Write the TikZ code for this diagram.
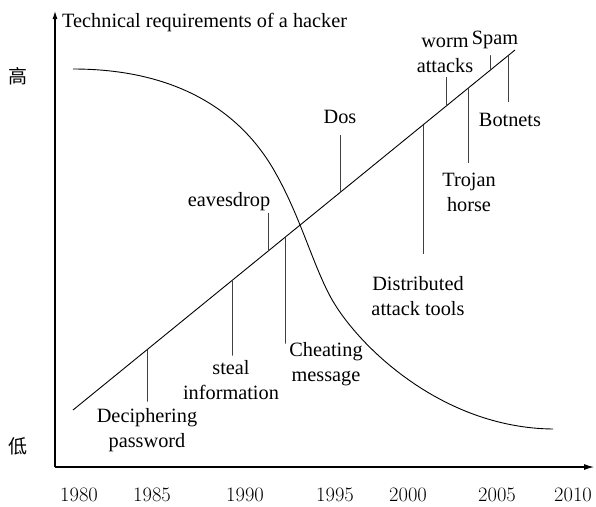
\documentclass[tikz,border=0pt]{standalone}
\usepackage{fontspec}
\newfontfamily\tnr{Liberation Serif}
\newfontfamily\cjk{Noto Sans CJK SC}
\usetikzlibrary{arrows.meta,calc}

\begin{document}
\begin{tikzpicture}[x=1pt,y=-1pt,
  lbl/.style={inner sep=0pt,align=center,font=\tnr\fontsize{20.3}{25}\selectfont},
  yr/.style={inner sep=0pt,font=\fontsize{20.5}{24}\selectfont},
  lvl/.style={inner sep=0pt,font=\cjk\fontsize{19}{22}\selectfont},
  axis/.style={line width=1.1pt},
  trend/.style={line width=0.9pt},
  tick/.style={line width=0.9pt,black!75}]
\useasboundingbox (0,0) rectangle (596,506);

% axes
\coordinate (O) at (55,467);
\coordinate (Ytop) at (55,11);
\coordinate (Xend) at (594,467);
\draw[axis,-{Latex[length=8pt,width=5pt]}] (O) -- (Ytop);
\draw[axis,-{Latex[length=10pt,width=6pt]}] (O) -- (Xend);
\node[lbl,anchor=base west] (title) at (62,27) {Technical requirements of a hacker};
\node[lvl] (hi) at (18,76) {高};
\node[lvl] (lo) at (18,446) {低};

% years
\node[yr] (y1980) at (79,495) {1980};
\node[yr] (y1985) at (152,495) {1985};
\node[yr] (y1990) at (245,495) {1990};
\node[yr] (y1995) at (335,495) {1995};
\node[yr] (y2000) at (408,495) {2000};
\node[yr] (y2005) at (497,495) {2005};
\node[yr] (y2010) at (573,495) {2010};

% falling curve: skill needed
\coordinate (C0) at (73,69);
\coordinate (C1) at (275,172);
\coordinate (C2) at (330,296);
\coordinate (C3) at (553,429);
\draw[trend] (C0) .. controls (175,69) and (240,110) .. (C1)
                  .. controls (300,216) and (312,262) .. (C2)
                  .. controls (355,343) and (440,428) .. (C3);

% rising line: attack sophistication
\coordinate (L0) at (73,410);
\coordinate (L1) at (515,50);
\draw[trend] (L0) -- (L1);

% points on the rising line
\coordinate (p1)  at ($(L0)!0.1674!(L1)$);
\coordinate (p2)  at ($(L0)!0.3597!(L1)$);
\coordinate (p3)  at ($(L0)!0.4412!(L1)$);
\coordinate (p4)  at ($(L0)!0.4796!(L1)$);
\coordinate (p5)  at ($(L0)!0.6041!(L1)$);
\coordinate (p6)  at ($(L0)!0.7919!(L1)$);
\coordinate (p7)  at ($(L0)!0.8439!(L1)$);
\coordinate (p8)  at ($(L0)!0.8937!(L1)$);
\coordinate (p9)  at ($(L0)!0.9434!(L1)$);
\coordinate (p10) at ($(L0)!0.9842!(L1)$);

% free ends of the ticks
\coordinate (e1)  at (147,401);
\coordinate (e2)  at (232,355);
\coordinate (e3)  at (268,213);
\coordinate (e4)  at (285,343);
\coordinate (e5)  at (340,135);
\coordinate (e6)  at (423,253);
\coordinate (e7)  at (446,77);
\coordinate (e8)  at (468,162);
\coordinate (e9)  at (490,55);
\coordinate (e10) at (508,101);

\foreach \i in {1,...,10} \draw[tick] (p\i) |- (e\i);

% event labels
\node[lbl] (dec)   at (147,430) {Deciphering\\password};
\node[lbl] (steal) at (231,380) {steal\\information};
\node[lbl] (eav)   at (229,202) {eavesdrop};
\node[lbl] (cheat) at (326,364) {Cheating\\message};
\node[lbl] (dos)   at (340,117) {Dos};
\node[lbl] (dist)  at (418,296) {Distributed\\attack tools};
\node[lbl] (worm)  at (445,55)  {worm\\attacks};
\node[lbl] (troj)  at (469,192) {Trojan\\horse};
\node[lbl] (spam)  at (495,40)  {Spam};
\node[lbl] (bot)   at (510,120) {Botnets};
\end{tikzpicture}
\end{document}
